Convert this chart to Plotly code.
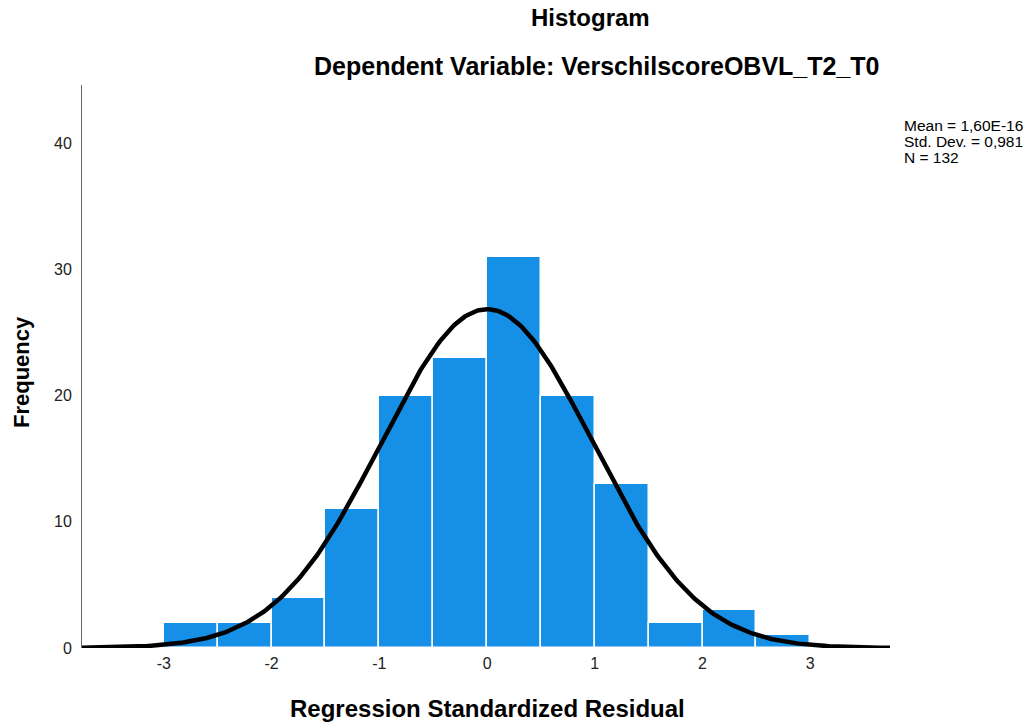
import numpy as np
import plotly.graph_objects as go

bin_left = [-3.0, -2.5, -2.0, -1.5, -1.0, -0.5, 0.0, 0.5, 1.0, 1.5, 2.0, 2.5]
counts = [2, 2, 4, 11, 20, 23, 31, 20, 13, 2, 3, 1]
bin_width = 0.5
mean = 1.60e-16
std_dev = 0.981
n_obs = 132
y_ticks = [0, 10, 20, 30, 40]
x_ticks = [-3, -2, -1, 0, 1, 2, 3]
stats_lines = ["Mean = 1,60E-16", "Std. Dev. = 0,981", f"N = {n_obs}"]

x_range = [-3.76, 3.74]
y_range = [0, 44.6]

centers = [b + bin_width / 2 for b in bin_left]

xs = np.linspace(x_range[0], x_range[1], 400)
ys = n_obs * bin_width * np.exp(-0.5 * ((xs - mean) / std_dev) ** 2) / (std_dev * np.sqrt(2 * np.pi))

fig = go.Figure()
fig.add_trace(go.Bar(
    x=centers, y=counts, width=bin_width,
    marker=dict(color="#1590E6", line=dict(color="white", width=1.5)),
    hoverinfo="x+y",
))
fig.add_trace(go.Scatter(
    x=xs, y=ys, mode="lines",
    line=dict(color="black", width=4.5),
    hoverinfo="skip",
))

font_family = "Liberation Sans, Arial, sans-serif"

L, R, T, B = 82, 139, 85, 75
PW = 1029 - L - R
PH = 723 - T - B

def px_x(px):
    return (px - L) / PW

def px_y(py):
    return (723 - B - py) / PH

annotations = [
    dict(text="<b>Histogram</b>", x=px_x(590), y=px_y(18), font=dict(size=24)),
    dict(text="<b>Dependent Variable: VerschilscoreOBVL_T2_T0</b>", x=px_x(597), y=px_y(66), font=dict(size=25)),
    dict(text="<b>Regression Standardized Residual</b>", x=px_x(487), y=px_y(708), font=dict(size=24)),
    dict(text="<b>Frequency</b>", x=px_x(21), y=px_y(372), textangle=-90, font=dict(size=22)),
]
for i, line in enumerate(stats_lines):
    annotations.append(dict(text=line, x=px_x(902), y=px_y(125 + 16 * i), xanchor="left",
                            font=dict(size=15.5)))
for a in annotations:
    a.setdefault("xanchor", "center")
    a.update(xref="paper", yref="paper", yanchor="middle", showarrow=False)

fig.update_layout(
    width=1029, height=723,
    margin=dict(l=L, r=R, t=T, b=B, autoexpand=False),
    paper_bgcolor="white", plot_bgcolor="white",
    showlegend=False,
    bargap=0,
    font=dict(family=font_family, color="black"),
    xaxis=dict(
        range=x_range, tickvals=x_ticks, ticktext=[str(v) for v in x_ticks],
        showgrid=False, zeroline=False, showline=False, ticks="", automargin=False,
        tickfont=dict(size=16, color="#222"), ticklabelstandoff=4,
    ),
    yaxis=dict(
        range=y_range, tickvals=y_ticks, ticktext=[str(v) for v in y_ticks],
        showgrid=False, zeroline=False, showline=True, linecolor="#666", linewidth=1,
        ticks="", automargin=False, tickfont=dict(size=16, color="#222"), ticklabelstandoff=6,
    ),
    annotations=annotations,
)

fig.write_html("out.html")
